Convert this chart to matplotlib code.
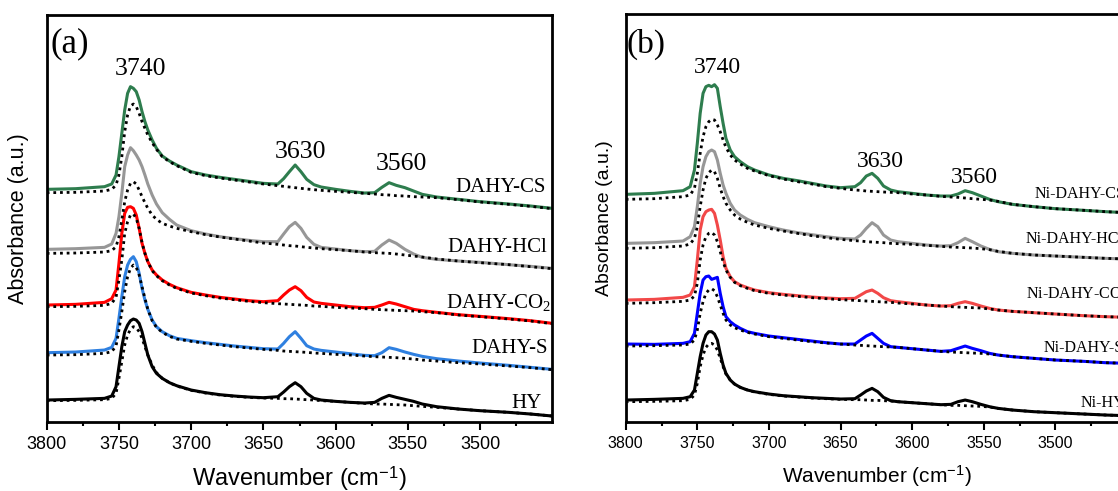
import matplotlib
matplotlib.use('Agg')
import matplotlib.pyplot as plt
from matplotlib.ticker import FixedLocator

plt.rcParams['font.family'] = 'Liberation Sans'
plt.rcParams['mathtext.fontset'] = 'custom'
plt.rcParams['mathtext.rm'] = 'Liberation Serif'
plt.rcParams['mathtext.sf'] = 'Liberation Sans'
plt.rcParams['mathtext.it'] = 'Liberation Serif:italic'

# ---------------- data ----------------
wavenumber = [3800, 3780, 3760, 3755, 3752, 3750, 3748, 3746, 3744, 3742, 3740, 3738, 3736,
              3734, 3732, 3730, 3727, 3724, 3720, 3715, 3710, 3700, 3690, 3680, 3670, 3660,
              3650, 3640, 3636, 3632, 3628, 3624, 3620, 3615, 3610, 3600, 3590, 3580, 3573,
              3568, 3563, 3558, 3552, 3546, 3540, 3530, 3515, 3500, 3480, 3465, 3450]

# panel (a): stacked absorbance (a.u., offset included)
a_cs = [697, 699, 705, 713, 740, 795, 865, 935, 985, 1005, 1000, 990, 965, 930, 900, 875, 845, 820,
        797, 782, 770, 750, 740, 733, 727, 721, 715, 713, 729, 750, 770, 750, 727, 711, 704, 697,
        691, 686, 687, 703, 717, 709, 702, 692, 682, 674, 667, 660, 653, 647, 640]
a_cs_ref = [687, 688, 692, 697, 710, 740, 795, 870, 920, 947, 953, 945, 925, 900, 880, 860, 837, 817,
            795, 780, 768, 748, 738, 731, 725, 719, 713, 708, 706, 704, 702, 700, 698, 696, 694, 691,
            688, 685, 683, 681, 680, 678, 677, 675, 674, 672, 666, 659, 652, 646, 639]
a_hcl = [517, 519, 523, 533, 565, 615, 685, 765, 800, 822, 813, 800, 785, 765, 740, 713, 680, 653,
         627, 607, 590, 573, 563, 555, 549, 544, 540, 540, 563, 585, 598, 580, 553, 532, 523, 518,
         513, 510, 511, 530, 545, 535, 517, 503, 493, 487, 482, 478, 471, 466, 460]
a_hcl_ref = [505, 506, 509, 513, 525, 555, 605, 660, 695, 715, 720, 713, 695, 675, 657, 640, 620, 607,
             595, 587, 580, 570, 561, 554, 548, 542, 536, 532, 530, 528, 527, 525, 523, 521, 519, 516,
             513, 509, 507, 506, 505, 503, 500, 497, 494, 488, 482, 477, 471, 465, 459]
a_co2 = [350, 352, 358, 369, 395, 475, 565, 625, 643, 645, 640, 620, 580, 535, 505, 480, 455, 440,
         425, 412, 402, 388, 380, 373, 368, 363, 360, 363, 380, 395, 405, 393, 373, 359, 355, 350,
         345, 342, 343, 350, 358, 353, 345, 337, 333, 328, 321, 316, 309, 303, 295]
a_co2_ref = [345, 346, 349, 355, 373, 425, 485, 565, 600, 620, 623, 610, 580, 537, 505, 480, 453, 438,
             423, 410, 400, 386, 378, 371, 366, 361, 357, 354, 353, 352, 351, 350, 349, 347, 346, 343,
             341, 339, 337, 336, 335, 334, 333, 332, 330, 327, 320, 315, 308, 302, 294]
a_s = [207, 209, 215, 223, 250, 310, 375, 435, 470, 487, 495, 480, 445, 400, 365, 337, 305, 285,
       270, 258, 250, 243, 237, 232, 227, 223, 219, 218, 235, 255, 270, 250, 228, 218, 214, 209,
       204, 199, 198, 207, 222, 217, 209, 202, 196, 189, 182, 176, 169, 163, 157]
a_s_ref = [200, 201, 205, 210, 227, 275, 330, 390, 435, 460, 470, 463, 440, 405, 370, 337, 303, 283,
           268, 256, 248, 241, 235, 230, 225, 221, 217, 214, 212, 211, 210, 209, 208, 206, 205, 202,
           200, 197, 195, 194, 193, 192, 190, 188, 185, 182, 177, 173, 167, 162, 156]
a_hy = [65, 67, 70, 77, 105, 165, 225, 270, 290, 303, 308, 305, 295, 270, 235, 200, 165, 145,
        130, 117, 108, 95, 87, 81, 77, 74, 72, 75, 89, 105, 117, 105, 85, 70, 65, 61,
        58, 56, 58, 70, 79, 73, 67, 61, 53, 45, 38, 33, 28, 23, 17]
a_hy_ref = [63, 64, 66, 70, 85, 130, 180, 230, 260, 277, 285, 282, 270, 250, 225, 200, 170, 147,
            130, 117, 107, 94, 86, 80, 76, 73, 71, 70, 69, 69, 68, 67, 66, 65, 63, 61,
            58, 55, 53, 53, 52, 51, 50, 48, 46, 43, 38, 33, 28, 23, 17]

# panel (b)
b_cs = [682, 685, 693, 705, 755, 835, 925, 985, 1005, 1009, 1005, 1011, 1000, 945, 895, 850, 815, 795,
        780, 765, 755, 740, 730, 723, 715, 707, 702, 705, 717, 737, 745, 730, 707, 695, 690, 685,
        680, 677, 677, 683, 693, 687, 677, 667, 660, 652, 645, 639, 634, 630, 627]
b_cs_ref = [667, 669, 675, 680, 700, 745, 805, 855, 885, 900, 907, 905, 890, 870, 845, 823, 800, 785,
            773, 760, 752, 738, 728, 720, 713, 705, 700, 695, 694, 692, 691, 690, 689, 688, 687, 683,
            680, 676, 674, 673, 671, 669, 667, 665, 661, 652, 645, 639, 634, 630, 627]
b_hcl = [535, 537, 542, 555, 585, 645, 715, 765, 795, 810, 815, 810, 785, 745, 710, 685, 655, 635,
         620, 607, 597, 585, 575, 567, 561, 555, 550, 548, 560, 580, 597, 585, 560, 545, 540, 535,
         530, 527, 528, 537, 550, 540, 527, 517, 510, 505, 500, 497, 493, 490, 488]
b_hcl_ref = [520, 522, 527, 533, 550, 585, 645, 695, 730, 747, 755, 750, 730, 700, 675, 655, 635, 620,
             608, 598, 590, 580, 572, 565, 558, 552, 547, 543, 542, 540, 539, 538, 537, 535, 534, 532,
             529, 526, 524, 523, 522, 521, 519, 516, 511, 505, 500, 497, 493, 490, 488]
b_co2 = [365, 367, 373, 380, 405, 485, 575, 615, 630, 635, 637, 625, 590, 545, 495, 460, 435, 420,
         410, 402, 395, 387, 382, 378, 374, 371, 369, 370, 380, 390, 395, 385, 372, 363, 360, 355,
         350, 347, 348, 355, 360, 355, 347, 340, 335, 331, 327, 323, 318, 315, 313]
b_co2_ref = [355, 357, 361, 365, 377, 415, 485, 530, 555, 565, 568, 560, 540, 510, 480, 455, 433, 418,
             408, 400, 393, 385, 380, 376, 372, 369, 366, 364, 363, 362, 361, 360, 359, 358, 356, 353,
             350, 347, 345, 344, 343, 342, 341, 338, 335, 331, 327, 323, 318, 315, 313]
b_s = [233, 232, 235, 240, 265, 325, 385, 425, 435, 437, 427, 430, 433, 385, 345, 315, 300, 290,
       280, 270, 265, 257, 252, 247, 242, 237, 233, 233, 245, 257, 265, 250, 235, 225, 223, 219,
       215, 211, 213, 220, 227, 220, 213, 205, 200, 195, 190, 185, 181, 177, 175]
b_s_ref = [227, 228, 230, 233, 245, 275, 325, 360, 385, 395, 399, 393, 375, 350, 325, 305, 290, 282,
           275, 268, 263, 255, 250, 245, 240, 236, 233, 230, 229, 228, 227, 226, 225, 224, 223, 219,
           215, 211, 209, 208, 207, 206, 205, 203, 200, 195, 190, 185, 181, 177, 175]
b_hy = [65, 67, 70, 75, 95, 145, 195, 235, 260, 270, 270, 263, 245, 205, 170, 145, 125, 113,
        103, 95, 90, 83, 78, 75, 72, 70, 68, 69, 80, 92, 100, 90, 73, 63, 60, 57,
        54, 51, 52, 60, 65, 60, 52, 45, 40, 35, 30, 27, 23, 20, 18]
b_hy_ref = [60, 61, 63, 67, 80, 115, 165, 200, 223, 233, 235, 230, 215, 190, 165, 143, 125, 113,
            103, 95, 89, 82, 77, 74, 71, 69, 67, 66, 66, 65, 64, 64, 63, 62, 60, 57,
            54, 51, 49, 49, 48, 47, 46, 44, 40, 35, 30, 27, 23, 20, 18]

labels_a = ['HY', 'DAHY-S', 'DAHY-CO$_\\mathrm{2}$', 'DAHY-HCl', 'DAHY-CS']
labels_b = ['Ni-HY', 'Ni-DAHY-S', 'Ni-DAHY-CO$_\\mathrm{2}$', 'Ni-DAHY-HCl', 'Ni-DAHY-CS']
peak_labels = ['3740', '3630', '3560']
major_ticks = [3800, 3750, 3700, 3650, 3600, 3550, 3500]
minor_ticks = [3775, 3725, 3675, 3625, 3575, 3525, 3475]

colors_a = ['#000000', '#2F80E0', '#FF0000', '#979797', '#2E7D4E']
colors_b = ['#000000', '#0000FF', '#F24848', '#979797', '#2E7D4E']

# ---------------- figure ----------------
FW, FH = 1118, 491
fig = plt.figure(figsize=(FW / 100, FH / 100), dpi=100)

box_a = (46.7, 15.0, 552.3, 421.7)     # left, top, right, bottom in px
box_b = (625.7, 14.0, 1127.0, 421.7)


def add_axes(box):
    l, t, r, b = box
    return fig.add_axes([l / FW, (FH - b) / FH, (r - l) / FW, (b - t) / FH])


def frac(box, x, y):
    l, t, r, b = box
    return (x - l) / (r - l), (b - y) / (b - t)


def style(ax, box, tick_fs, xlab_fs, ylab_fs, ylab_x, ytop):
    ax.set_xlim(3800, 3450)
    ax.set_ylim(0, ytop)
    ax.xaxis.set_major_locator(FixedLocator(major_ticks))
    ax.xaxis.set_minor_locator(FixedLocator(minor_ticks))
    ax.set_yticks([])
    ax.tick_params(axis='x', which='major', direction='out', length=6, width=1.5,
                   labelsize=tick_fs, pad=4)
    ax.tick_params(axis='x', which='minor', direction='out', length=3, width=1.5)
    for s in ax.spines.values():
        s.set_linewidth(2.0)
    ax.set_xlabel('Wavenumber (cm$^{\\mathsf{-1}}$)', fontsize=xlab_fs)
    ax.set_ylabel('Absorbance (a.u.)', fontsize=ylab_fs)
    fx, _ = frac(box, ylab_x, 0)
    ax.yaxis.set_label_coords(fx, 0.5)
    _, fy = frac(box, 0, 464)
    ax.xaxis.set_label_coords(0.5, fy)


ax_a = add_axes(box_a)
ax_b = add_axes(box_b)

solids_a = [a_hy, a_s, a_co2, a_hcl, a_cs]
refs_a = [a_hy_ref, a_s_ref, a_co2_ref, a_hcl_ref, a_cs_ref]
solids_b = [b_hy, b_s, b_co2, b_hcl, b_cs]
refs_b = [b_hy_ref, b_s_ref, b_co2_ref, b_hcl_ref, b_cs_ref]

for ax, sol, ref, cols in [(ax_a, solids_a, refs_a, colors_a), (ax_b, solids_b, refs_b, colors_b)]:
    for ys, c in zip(sol, cols):
        ax.plot(wavenumber, ys, color=c, lw=2.2, solid_joinstyle='round', zorder=2)
    for ys in ref:
        ax.plot(wavenumber, ys, color='black', lw=2.0, dashes=(1, 1.4), zorder=3)

style(ax_a, box_a, 13, 17, 15.5, 29, 1220)
style(ax_b, box_b, 11.5, 15, 14, 613, 1223)

serif = 'Liberation Serif'

# panel (a) texts
ax_a.text(*frac(box_a, 50, 52), '(a)', transform=ax_a.transAxes, fontsize=25,
          family=serif, ha='left', va='baseline')
for s, (x, y) in zip(peak_labels, [(140, 75), (301, 158), (401.5, 170)]):
    ax_a.text(*frac(box_a, x, y), s, transform=ax_a.transAxes, fontsize=18.5,
              family=serif, ha='center', va='baseline')
for s, (x, y) in zip(labels_a, [(542, 408), (548, 353), (551, 308), (547, 251.7), (546, 191.7)]):
    ax_a.text(*frac(box_a, x, y), s, transform=ax_a.transAxes, fontsize=15,
              family=serif, ha='right', va='baseline')

# panel (b) texts
ax_b.text(*frac(box_b, 626.7, 53), '(b)', transform=ax_b.transAxes, fontsize=24,
          family=serif, ha='left', va='baseline')
for s, (x, y) in zip(peak_labels, [(717, 73.3), (880, 167.3), (974, 182.7)]):
    ax_b.text(*frac(box_b, x, y), s, transform=ax_b.transAxes, fontsize=17,
              family=serif, ha='center', va='baseline')
for s, (x, y) in zip(labels_b, [(1081, 406.7), (1044, 352.3), (1026, 298.7), (1026, 242.7), (1035, 198.3)]):
    ax_b.text(*frac(box_b, x, y), s, transform=ax_b.transAxes, fontsize=11.5,
              family=serif, ha='left', va='baseline')

fig.savefig('out.png', dpi=100)
